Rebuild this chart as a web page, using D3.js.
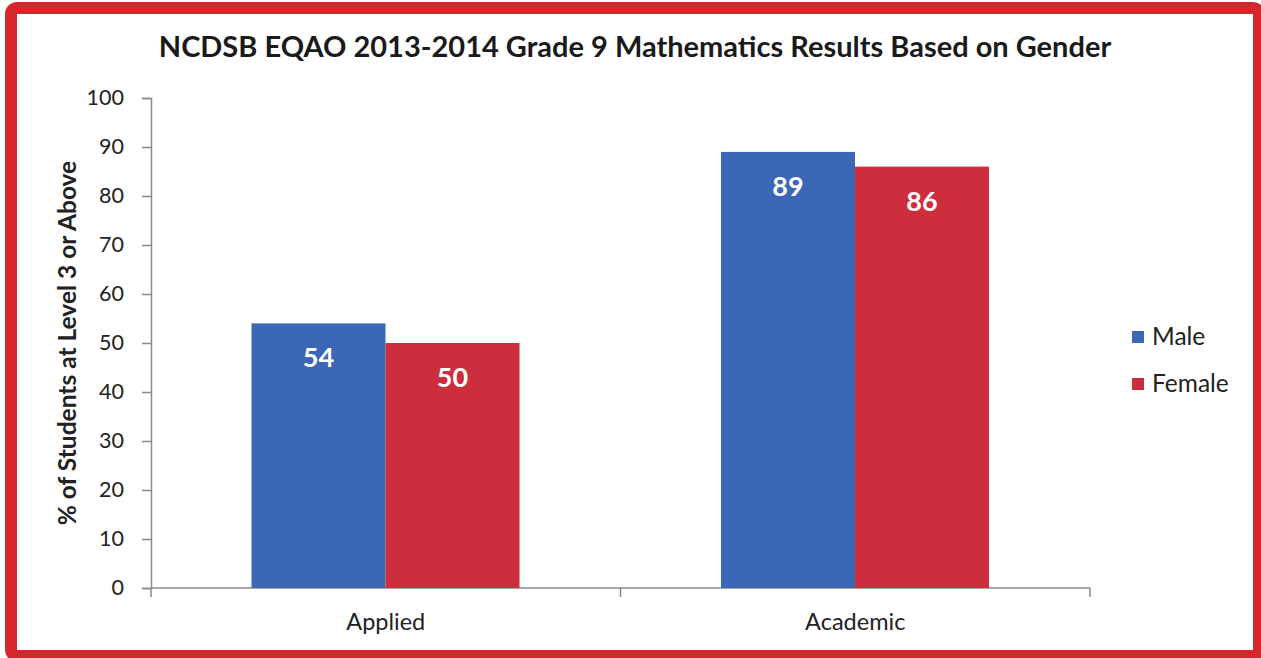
<!DOCTYPE html>
<html><head><meta charset="utf-8">
<script src="https://cdn.jsdelivr.net/npm/d3@7"></script>
<style>body{margin:0;background:#fff;}svg{display:block;}</style>
</head><body>
<script>
const categories = ["Applied", "Academic"];
const seriesNames = ["Male", "Female"];
const maleValues = [54, 89];
const femaleValues = [50, 86];
const yTicks = [0,10,20,30,40,50,60,70,80,90,100];
const title = "NCDSB EQAO 2013-2014 Grade 9 Mathematics Results Based on Gender";
const yTitle = "% of Students at Level 3 or Above";
const colors = ["#3a67b6", "#cc2e3d"];

const W = 1261, H = 658;
const svg = d3.select("body").append("svg").attr("width", W).attr("height", H);
const font = "Lato, 'Open Sans', sans-serif";

// frame
svg.append("rect").attr("x",11).attr("y",8).attr("width",1248).attr("height",648)
  .attr("rx",6).attr("fill","#fff").attr("stroke","#d6252b").attr("stroke-width",12);

const x0 = d3.scaleBand().domain(categories).range([151, 1090]).paddingInner(0).paddingOuter(0);
const x1 = d3.scaleBand().domain(seriesNames).range([100.5, 100.5 + 268]);
const y = d3.scaleLinear().domain([0,100]).range([588, 98]);

svg.append("text").attr("x", 635).attr("y", 57).attr("text-anchor","middle")
  .attr("font-family", font).attr("font-weight","bold").attr("font-size",29).attr("fill","#1a1a1a").text(title);

// y axis
const yAxis = svg.append("g").attr("transform","translate(151,0)")
  .call(d3.axisLeft(y).tickValues(yTicks).tickSize(9).tickPadding(18));
yAxis.select(".domain").attr("stroke","#8a8a8a").attr("stroke-width",1.5);
yAxis.selectAll(".tick line").attr("stroke","#8a8a8a").attr("stroke-width",1.5);
yAxis.selectAll(".tick text").attr("font-family",font).attr("font-size",21.5).attr("fill","#222");

// x axis
const xAxisG = svg.append("g").attr("transform","translate(0,588)");
xAxisG.append("line").attr("x1",151).attr("x2",1090).attr("stroke","#8a8a8a").attr("stroke-width",1.5);
const bounds = [x0.range()[0], ...categories.map(c => x0(c) + x0.bandwidth())];
xAxisG.selectAll("line.tk").data(bounds).join("line").attr("class","tk")
  .attr("x1",d=>d).attr("x2",d=>d).attr("y1",0).attr("y2",9).attr("stroke","#8a8a8a").attr("stroke-width",1.5);
xAxisG.selectAll("text").data(categories).join("text")
  .attr("x", d => x0(d) + x0.bandwidth()/2).attr("y", 42).attr("text-anchor","middle")
  .attr("font-family",font).attr("font-size",23.5).attr("fill","#222").text(d=>d);

// y title
svg.append("text").attr("transform","translate(76,343) rotate(-90)").attr("text-anchor","middle")
  .attr("font-family",font).attr("font-weight","bold").attr("font-size",24.5).attr("fill","#222").text(yTitle);

// bars
const data = categories.map((c,i) => ({cat:c, vals:[{s:"Male",v:maleValues[i]},{s:"Female",v:femaleValues[i]}]}));
const g = svg.selectAll("g.cat").data(data).join("g").attr("class","cat")
  .attr("transform", d => `translate(${x0(d.cat)},0)`);
g.selectAll("rect").data(d=>d.vals).join("rect")
  .attr("x", d => x1(d.s)).attr("width", x1.bandwidth())
  .attr("y", d => y(d.v)).attr("height", d => y(0) - y(d.v))
  .attr("fill", (d,i) => colors[i]);
g.selectAll("text").data(d=>d.vals).join("text")
  .attr("x", d => x1(d.s) + x1.bandwidth()/2).attr("y", d => y(d.v) + 44)
  .attr("text-anchor","middle").attr("font-family",font).attr("font-weight","bold")
  .attr("font-size",27).attr("fill","#fff").text(d=>d.v);

// legend
const lg = svg.selectAll("g.lg").data(seriesNames).join("g").attr("class","lg")
  .attr("transform",(d,i)=>`translate(1132,${337 + i*47})`);
lg.append("rect").attr("x",0).attr("y",-6).attr("width",12).attr("height",12).attr("fill",(d,i)=>colors[i]);
lg.append("text").attr("x",20).attr("y",8).attr("font-family",font).attr("font-size",24.5).attr("fill","#222").text(d=>d);
</script>
</body></html>
